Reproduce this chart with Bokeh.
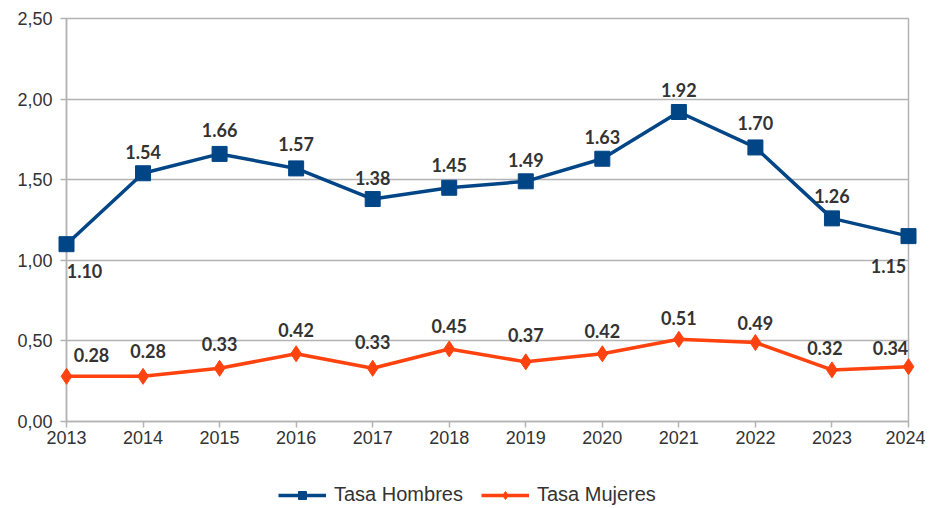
from bokeh.plotting import figure
from bokeh.layouts import column
from bokeh.models import Range1d, FixedTicker, CustomJSTickFormatter, ColumnDataSource, Legend, LegendItem
from bokeh.core.properties import value
from bokeh.embed import file_html
from bokeh.resources import INLINE

years = [2013, 2014, 2015, 2016, 2017, 2018, 2019, 2020, 2021, 2022, 2023, 2024]
tasa_hombres = [1.10, 1.54, 1.66, 1.57, 1.38, 1.45, 1.49, 1.63, 1.92, 1.70, 1.26, 1.15]
tasa_mujeres = [0.28, 0.28, 0.33, 0.42, 0.33, 0.45, 0.37, 0.42, 0.51, 0.49, 0.32, 0.34]
y_ticks = [0.0, 0.5, 1.0, 1.5, 2.0, 2.5]
series_names = ["Tasa Hombres", "Tasa Mujeres"]

BLUE = "#004586"
ORANGE = "#ff420e"
GRID = "#b3b3b3"
TEXT = "#333333"

# label placement (screen px)
h_dx = [18, 0, 0, 0, 0, 0, 0, 0, 0, 0, 0, -20]
h_dy = [27, -21, -24, -24, -21, -23, -21, -22, -22, -24, -22, 30]
m_dx = [25, 5, 0, 0, 0, 0, 0, 0, 0, 0, -7, -18]
m_dy = [-21, -25, -24, -24, -26, -23, -27, -23, -21, -20, -22, -19]

p = figure(width=925, height=454, output_backend="svg", toolbar_location=None,
           x_range=Range1d(2013, 2024), y_range=Range1d(0, 2.5),
           min_border_left=66, min_border_right=17, min_border_top=18, min_border_bottom=33)
p.background_fill_color = "white"
p.border_fill_color = "white"
p.outline_line_color = GRID
p.outline_line_width = 1.5

p.xgrid.visible = False
p.ygrid.grid_line_color = GRID
p.ygrid.grid_line_width = 1.5
p.ygrid.ticker = FixedTicker(ticks=y_ticks)

for ax in (p.xaxis[0], p.yaxis[0]):
    ax.axis_line_color = GRID
    ax.axis_line_width = 1.5
    ax.major_tick_line_color = GRID
    ax.major_tick_line_width = 1.5
    ax.major_tick_out = 6
    ax.major_tick_in = 0
    ax.minor_tick_line_color = None
    ax.major_label_text_font = "Liberation Sans"
    ax.major_label_text_font_size = "18px"
    ax.major_label_text_color = TEXT

p.xaxis.ticker = FixedTicker(ticks=years)
p.xaxis.major_label_standoff = 3
p.yaxis.ticker = FixedTicker(ticks=y_ticks)
p.yaxis.formatter = CustomJSTickFormatter(code="return tick.toFixed(2).replace('.', ',');")
p.yaxis.major_label_standoff = 8

src = ColumnDataSource(dict(
    x=years, h=tasa_hombres, m=tasa_mujeres,
    hl=["%.2f" % v for v in tasa_hombres], ml=["%.2f" % v for v in tasa_mujeres],
    hdx=h_dx, hdy=h_dy, mdx=m_dx, mdy=m_dy))

line_kw_h = dict(line_color=BLUE, line_width=3.5)
mark_kw_h = dict(marker="square", size=15, fill_color=BLUE, line_color=BLUE)
line_kw_m = dict(line_color=ORANGE, line_width=3.5)
mark_kw_m = dict(marker="diamond", size=16, fill_color=ORANGE, line_color=ORANGE)

p.line("x", "h", source=src, level="overlay", **line_kw_h)
p.scatter("x", "h", source=src, level="overlay", **mark_kw_h)
p.line("x", "m", source=src, level="overlay", **line_kw_m)
p.scatter("x", "m", source=src, level="overlay", **mark_kw_m)

for col, dx, dy in (("hl", "hdx", "hdy"), ("ml", "mdx", "mdy")):
    yc = "h" if col == "hl" else "m"
    p.text("x", yc, text=col, source=src, x_offset=dx, y_offset=dy,
           text_align="center", text_baseline="middle",
           text_font=value("Lato"), text_font_style="bold", text_font_size="18px",
           text_color=TEXT, level="overlay")

# legend strip below the chart (its renderers hold one off-screen point so the legend can draw them)
lg = figure(width=925, height=54, output_backend="svg", toolbar_location=None,
            x_range=Range1d(0, 1), y_range=Range1d(0, 1),
            min_border_left=0, min_border_right=0, min_border_top=0, min_border_bottom=0)
lg.axis.visible = False
lg.grid.visible = False
lg.outline_line_color = None
offscreen = ColumnDataSource(dict(x=[-5], y=[-5]))
r1 = lg.line("x", "y", source=offscreen, **line_kw_h)
r2 = lg.scatter("x", "y", source=offscreen, **mark_kw_h)
r3 = lg.line("x", "y", source=offscreen, **line_kw_m)
r4 = lg.scatter("x", "y", source=offscreen, **mark_kw_m)
legend = Legend(items=[LegendItem(label=series_names[0], renderers=[r1, r2]),
                       LegendItem(label=series_names[1], renderers=[r3, r4])],
                orientation="horizontal", location=(212, 2),
                label_text_font="Liberation Sans", label_text_font_size="20px",
                label_text_color=TEXT, border_line_color=None, background_fill_alpha=0,
                glyph_width=48, glyph_height=20, spacing=18, padding=2, margin=0,
                label_standoff=8)
lg.add_layout(legend)

layout = column(p, lg, spacing=0)
open("out.html", "w").write(file_html(layout, INLINE))
